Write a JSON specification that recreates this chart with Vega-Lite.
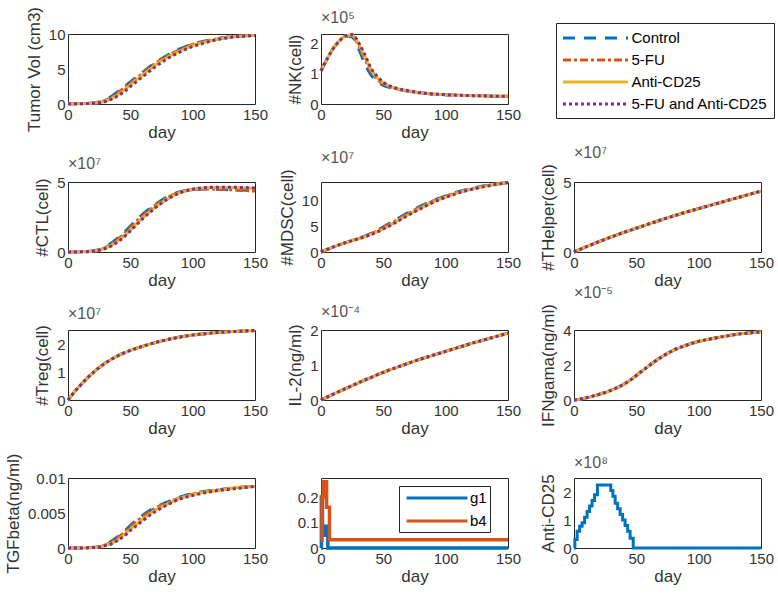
{
"$schema": "https://vega.github.io/schema/vega-lite/v6.json",
"autosize": {"type": "none"},
"padding": {"left": 68, "top": 34, "right": 710, "bottom": 565},
"background": "white",
"bounds": "flush",
"columns": 3,
"spacing": {"row": 78, "column": 66},
"resolve": {"scale": {"color": "independent", "strokeDash": "independent", "x": "independent", "y": "independent"}, "legend": {"color": "independent", "strokeDash": "independent"}},
"config": {
  "font": "Liberation Sans",
  "view": {"stroke": "#262626", "strokeWidth": 1},
  "axis": {"labelFont": "Liberation Sans", "labelFontSize": 15, "labelColor": "#333333", "titleFont": "Liberation Sans", "titleFontSize": 17, "titleFontWeight": "normal", "titleColor": "#333333", "domain": false, "ticks": false, "grid": false, "labelPadding": 3, "labelFlush": false, "labelOverlap": false},
  "axisX": {"titlePadding": 2},
  "axisY": {"titlePadding": 5},
  "title": {"anchor": "start", "frame": "group", "fontSize": 16, "fontWeight": "normal", "color": "#555555", "offset": 3, "font": "Liberation Sans"},
  "line": {"strokeWidth": 3, "interpolate": "monotone"}
},
"datasets": {
"m": [
{"p":"tv","d":0,"c":0.05,"f":0.05,"a":0.05,"b":0.05},
{"p":"tv","d":5,"c":0.05,"f":0.05,"a":0.05,"b":0.05},
{"p":"tv","d":10,"c":0.06,"f":0.06,"a":0.05,"b":0.05},
{"p":"tv","d":15,"c":0.08,"f":0.08,"a":0.07,"b":0.06},
{"p":"tv","d":20,"c":0.14,"f":0.13,"a":0.11,"b":0.1},
{"p":"tv","d":25,"c":0.28,"f":0.25,"a":0.2,"b":0.17},
{"p":"tv","d":30,"c":0.6,"f":0.52,"a":0.42,"b":0.35},
{"p":"tv","d":35,"c":1.1,"f":0.98,"a":0.8,"b":0.68},
{"p":"tv","d":40,"c":1.75,"f":1.6,"a":1.35,"b":1.15},
{"p":"tv","d":45,"c":2.45,"f":2.28,"a":1.98,"b":1.75},
{"p":"tv","d":50,"c":3.15,"f":3.0,"a":2.75,"b":2.5},
{"p":"tv","d":55,"c":3.85,"f":3.7,"a":3.45,"b":3.2},
{"p":"tv","d":60,"c":4.55,"f":4.4,"a":4.15,"b":3.9},
{"p":"tv","d":70,"c":5.9,"f":5.8,"a":5.55,"b":5.3},
{"p":"tv","d":80,"c":7.0,"f":6.9,"a":6.7,"b":6.5},
{"p":"tv","d":90,"c":7.9,"f":7.8,"a":7.6,"b":7.45},
{"p":"tv","d":100,"c":8.55,"f":8.5,"a":8.35,"b":8.2},
{"p":"tv","d":110,"c":9.0,"f":8.95,"a":8.85,"b":8.75},
{"p":"tv","d":120,"c":9.35,"f":9.3,"a":9.25,"b":9.2},
{"p":"tv","d":130,"c":9.6,"f":9.58,"a":9.55,"b":9.5},
{"p":"tv","d":140,"c":9.72,"f":9.72,"a":9.7,"b":9.68},
{"p":"tv","d":150,"c":9.8,"f":9.8,"a":9.8,"b":9.78},
{"p":"nk","d":0,"c":1.1,"f":1.1,"a":1.1,"b":1.1},
{"p":"nk","d":5,"c":1.5,"f":1.5,"a":1.5,"b":1.5},
{"p":"nk","d":10,"c":1.85,"f":1.85,"a":1.85,"b":1.85},
{"p":"nk","d":15,"c":2.1,"f":2.1,"a":2.1,"b":2.1},
{"p":"nk","d":20,"c":2.25,"f":2.26,"a":2.26,"b":2.26},
{"p":"nk","d":25,"c":2.22,"f":2.26,"a":2.28,"b":2.3},
{"p":"nk","d":30,"c":1.85,"f":1.95,"a":2.0,"b":2.05},
{"p":"nk","d":35,"c":1.35,"f":1.5,"a":1.58,"b":1.65},
{"p":"nk","d":40,"c":0.97,"f":1.08,"a":1.15,"b":1.2},
{"p":"nk","d":45,"c":0.75,"f":0.82,"a":0.88,"b":0.92},
{"p":"nk","d":50,"c":0.62,"f":0.67,"a":0.7,"b":0.72},
{"p":"nk","d":55,"c":0.55,"f":0.58,"a":0.59,"b":0.6},
{"p":"nk","d":60,"c":0.5,"f":0.51,"a":0.52,"b":0.53},
{"p":"nk","d":70,"c":0.42,"f":0.43,"a":0.43,"b":0.44},
{"p":"nk","d":80,"c":0.37,"f":0.37,"a":0.37,"b":0.37},
{"p":"nk","d":90,"c":0.33,"f":0.33,"a":0.33,"b":0.33},
{"p":"nk","d":100,"c":0.31,"f":0.31,"a":0.31,"b":0.31},
{"p":"nk","d":110,"c":0.29,"f":0.29,"a":0.29,"b":0.29},
{"p":"nk","d":120,"c":0.28,"f":0.28,"a":0.28,"b":0.28},
{"p":"nk","d":130,"c":0.27,"f":0.27,"a":0.27,"b":0.27},
{"p":"nk","d":140,"c":0.26,"f":0.26,"a":0.26,"b":0.26},
{"p":"nk","d":150,"c":0.26,"f":0.26,"a":0.26,"b":0.26},
{"p":"ctl","d":0,"c":0,"f":0,"a":0,"b":0},
{"p":"ctl","d":5,"c":0,"f":0,"a":0,"b":0},
{"p":"ctl","d":10,"c":0.01,"f":0.01,"a":0.01,"b":0.01},
{"p":"ctl","d":15,"c":0.03,"f":0.03,"a":0.02,"b":0.02},
{"p":"ctl","d":20,"c":0.08,"f":0.07,"a":0.06,"b":0.05},
{"p":"ctl","d":25,"c":0.17,"f":0.15,"a":0.13,"b":0.12},
{"p":"ctl","d":30,"c":0.35,"f":0.32,"a":0.28,"b":0.25},
{"p":"ctl","d":35,"c":0.65,"f":0.58,"a":0.5,"b":0.45},
{"p":"ctl","d":40,"c":1.0,"f":0.92,"a":0.8,"b":0.73},
{"p":"ctl","d":45,"c":1.4,"f":1.3,"a":1.15,"b":1.08},
{"p":"ctl","d":50,"c":1.85,"f":1.75,"a":1.58,"b":1.5},
{"p":"ctl","d":55,"c":2.3,"f":2.2,"a":2.02,"b":1.95},
{"p":"ctl","d":60,"c":2.7,"f":2.6,"a":2.45,"b":2.38},
{"p":"ctl","d":70,"c":3.4,"f":3.35,"a":3.2,"b":3.15},
{"p":"ctl","d":80,"c":3.95,"f":3.9,"a":3.8,"b":3.78},
{"p":"ctl","d":90,"c":4.3,"f":4.28,"a":4.25,"b":4.23},
{"p":"ctl","d":100,"c":4.45,"f":4.45,"a":4.48,"b":4.48},
{"p":"ctl","d":110,"c":4.5,"f":4.5,"a":4.58,"b":4.6},
{"p":"ctl","d":120,"c":4.48,"f":4.48,"a":4.6,"b":4.63},
{"p":"ctl","d":130,"c":4.45,"f":4.45,"a":4.6,"b":4.63},
{"p":"ctl","d":140,"c":4.42,"f":4.4,"a":4.58,"b":4.6},
{"p":"ctl","d":150,"c":4.38,"f":4.35,"a":4.55,"b":4.57},
{"p":"mdsc","d":0,"c":0,"f":0,"a":0,"b":0},
{"p":"mdsc","d":5,"c":0.5,"f":0.5,"a":0.5,"b":0.5},
{"p":"mdsc","d":10,"c":1.0,"f":1.0,"a":1.0,"b":1.0},
{"p":"mdsc","d":15,"c":1.45,"f":1.45,"a":1.45,"b":1.45},
{"p":"mdsc","d":20,"c":1.85,"f":1.85,"a":1.85,"b":1.85},
{"p":"mdsc","d":25,"c":2.25,"f":2.25,"a":2.25,"b":2.25},
{"p":"mdsc","d":30,"c":2.65,"f":2.63,"a":2.6,"b":2.58},
{"p":"mdsc","d":35,"c":3.1,"f":3.07,"a":3.0,"b":2.97},
{"p":"mdsc","d":40,"c":3.65,"f":3.6,"a":3.45,"b":3.4},
{"p":"mdsc","d":45,"c":4.25,"f":4.15,"a":3.95,"b":3.9},
{"p":"mdsc","d":50,"c":4.9,"f":4.8,"a":4.55,"b":4.5},
{"p":"mdsc","d":55,"c":5.6,"f":5.45,"a":5.2,"b":5.1},
{"p":"mdsc","d":60,"c":6.3,"f":6.15,"a":5.9,"b":5.8},
{"p":"mdsc","d":70,"c":7.7,"f":7.55,"a":7.3,"b":7.2},
{"p":"mdsc","d":80,"c":9.0,"f":8.85,"a":8.6,"b":8.5},
{"p":"mdsc","d":90,"c":10.1,"f":10.0,"a":9.8,"b":9.7},
{"p":"mdsc","d":100,"c":11.0,"f":10.9,"a":10.75,"b":10.7},
{"p":"mdsc","d":110,"c":11.8,"f":11.7,"a":11.6,"b":11.55},
{"p":"mdsc","d":120,"c":12.4,"f":12.35,"a":12.25,"b":12.2},
{"p":"mdsc","d":130,"c":12.9,"f":12.85,"a":12.8,"b":12.75},
{"p":"mdsc","d":140,"c":13.3,"f":13.28,"a":13.25,"b":13.2},
{"p":"mdsc","d":150,"c":13.6,"f":13.6,"a":13.6,"b":13.6},
{"p":"th","d":0,"c":0,"f":0,"a":0,"b":0},
{"p":"th","d":5,"c":0.19,"f":0.19,"a":0.19,"b":0.19},
{"p":"th","d":10,"c":0.38,"f":0.38,"a":0.38,"b":0.38},
{"p":"th","d":15,"c":0.56,"f":0.56,"a":0.56,"b":0.56},
{"p":"th","d":20,"c":0.74,"f":0.74,"a":0.74,"b":0.74},
{"p":"th","d":25,"c":0.91,"f":0.91,"a":0.91,"b":0.91},
{"p":"th","d":30,"c":1.08,"f":1.08,"a":1.08,"b":1.08},
{"p":"th","d":35,"c":1.24,"f":1.24,"a":1.24,"b":1.24},
{"p":"th","d":40,"c":1.4,"f":1.4,"a":1.4,"b":1.4},
{"p":"th","d":45,"c":1.55,"f":1.55,"a":1.55,"b":1.55},
{"p":"th","d":50,"c":1.7,"f":1.7,"a":1.7,"b":1.7},
{"p":"th","d":55,"c":1.85,"f":1.85,"a":1.85,"b":1.85},
{"p":"th","d":60,"c":2.0,"f":2.0,"a":2.0,"b":2.0},
{"p":"th","d":70,"c":2.3,"f":2.3,"a":2.3,"b":2.3},
{"p":"th","d":80,"c":2.58,"f":2.58,"a":2.58,"b":2.58},
{"p":"th","d":90,"c":2.85,"f":2.85,"a":2.85,"b":2.85},
{"p":"th","d":100,"c":3.1,"f":3.1,"a":3.1,"b":3.1},
{"p":"th","d":110,"c":3.35,"f":3.35,"a":3.35,"b":3.35},
{"p":"th","d":120,"c":3.6,"f":3.6,"a":3.6,"b":3.6},
{"p":"th","d":130,"c":3.85,"f":3.85,"a":3.85,"b":3.85},
{"p":"th","d":140,"c":4.1,"f":4.1,"a":4.1,"b":4.1},
{"p":"th","d":150,"c":4.35,"f":4.35,"a":4.35,"b":4.35},
{"p":"treg","d":0,"c":0,"f":0,"a":0,"b":0},
{"p":"treg","d":5,"c":0.28,"f":0.28,"a":0.28,"b":0.28},
{"p":"treg","d":10,"c":0.53,"f":0.53,"a":0.53,"b":0.53},
{"p":"treg","d":15,"c":0.76,"f":0.76,"a":0.76,"b":0.76},
{"p":"treg","d":20,"c":0.97,"f":0.97,"a":0.97,"b":0.97},
{"p":"treg","d":25,"c":1.16,"f":1.16,"a":1.16,"b":1.16},
{"p":"treg","d":30,"c":1.32,"f":1.32,"a":1.32,"b":1.32},
{"p":"treg","d":35,"c":1.46,"f":1.46,"a":1.46,"b":1.46},
{"p":"treg","d":40,"c":1.58,"f":1.58,"a":1.58,"b":1.58},
{"p":"treg","d":45,"c":1.68,"f":1.68,"a":1.68,"b":1.68},
{"p":"treg","d":50,"c":1.77,"f":1.77,"a":1.77,"b":1.77},
{"p":"treg","d":55,"c":1.85,"f":1.85,"a":1.85,"b":1.85},
{"p":"treg","d":60,"c":1.92,"f":1.92,"a":1.92,"b":1.92},
{"p":"treg","d":70,"c":2.05,"f":2.05,"a":2.05,"b":2.05},
{"p":"treg","d":80,"c":2.16,"f":2.16,"a":2.16,"b":2.16},
{"p":"treg","d":90,"c":2.25,"f":2.25,"a":2.25,"b":2.25},
{"p":"treg","d":100,"c":2.32,"f":2.32,"a":2.32,"b":2.32},
{"p":"treg","d":110,"c":2.37,"f":2.37,"a":2.37,"b":2.37},
{"p":"treg","d":120,"c":2.41,"f":2.41,"a":2.41,"b":2.41},
{"p":"treg","d":130,"c":2.44,"f":2.44,"a":2.44,"b":2.44},
{"p":"treg","d":140,"c":2.46,"f":2.46,"a":2.46,"b":2.46},
{"p":"treg","d":150,"c":2.48,"f":2.48,"a":2.48,"b":2.48},
{"p":"il2","d":0,"c":0,"f":0,"a":0,"b":0},
{"p":"il2","d":5,"c":0.085,"f":0.085,"a":0.085,"b":0.085},
{"p":"il2","d":10,"c":0.17,"f":0.17,"a":0.17,"b":0.17},
{"p":"il2","d":15,"c":0.25,"f":0.25,"a":0.25,"b":0.25},
{"p":"il2","d":20,"c":0.33,"f":0.33,"a":0.33,"b":0.33},
{"p":"il2","d":25,"c":0.41,"f":0.41,"a":0.41,"b":0.41},
{"p":"il2","d":30,"c":0.49,"f":0.49,"a":0.49,"b":0.49},
{"p":"il2","d":35,"c":0.57,"f":0.57,"a":0.57,"b":0.57},
{"p":"il2","d":40,"c":0.64,"f":0.64,"a":0.64,"b":0.64},
{"p":"il2","d":45,"c":0.72,"f":0.72,"a":0.72,"b":0.72},
{"p":"il2","d":50,"c":0.79,"f":0.79,"a":0.79,"b":0.79},
{"p":"il2","d":55,"c":0.86,"f":0.86,"a":0.86,"b":0.86},
{"p":"il2","d":60,"c":0.92,"f":0.92,"a":0.92,"b":0.92},
{"p":"il2","d":70,"c":1.05,"f":1.05,"a":1.05,"b":1.05},
{"p":"il2","d":80,"c":1.17,"f":1.17,"a":1.17,"b":1.17},
{"p":"il2","d":90,"c":1.28,"f":1.28,"a":1.28,"b":1.28},
{"p":"il2","d":100,"c":1.39,"f":1.39,"a":1.39,"b":1.39},
{"p":"il2","d":110,"c":1.5,"f":1.5,"a":1.5,"b":1.5},
{"p":"il2","d":120,"c":1.61,"f":1.61,"a":1.61,"b":1.61},
{"p":"il2","d":130,"c":1.71,"f":1.71,"a":1.71,"b":1.71},
{"p":"il2","d":140,"c":1.81,"f":1.81,"a":1.81,"b":1.81},
{"p":"il2","d":150,"c":1.91,"f":1.91,"a":1.91,"b":1.91},
{"p":"ifn","d":0,"c":0,"f":0,"a":0,"b":0},
{"p":"ifn","d":5,"c":0.05,"f":0.05,"a":0.05,"b":0.05},
{"p":"ifn","d":10,"c":0.13,"f":0.13,"a":0.13,"b":0.13},
{"p":"ifn","d":15,"c":0.22,"f":0.22,"a":0.22,"b":0.22},
{"p":"ifn","d":20,"c":0.32,"f":0.32,"a":0.32,"b":0.32},
{"p":"ifn","d":25,"c":0.43,"f":0.43,"a":0.43,"b":0.43},
{"p":"ifn","d":30,"c":0.56,"f":0.56,"a":0.56,"b":0.56},
{"p":"ifn","d":35,"c":0.72,"f":0.72,"a":0.72,"b":0.72},
{"p":"ifn","d":40,"c":0.9,"f":0.9,"a":0.9,"b":0.9},
{"p":"ifn","d":45,"c":1.13,"f":1.13,"a":1.13,"b":1.13},
{"p":"ifn","d":50,"c":1.4,"f":1.4,"a":1.4,"b":1.4},
{"p":"ifn","d":55,"c":1.68,"f":1.68,"a":1.68,"b":1.68},
{"p":"ifn","d":60,"c":1.95,"f":1.95,"a":1.95,"b":1.95},
{"p":"ifn","d":70,"c":2.45,"f":2.45,"a":2.45,"b":2.45},
{"p":"ifn","d":80,"c":2.85,"f":2.85,"a":2.85,"b":2.85},
{"p":"ifn","d":90,"c":3.13,"f":3.13,"a":3.13,"b":3.13},
{"p":"ifn","d":100,"c":3.35,"f":3.35,"a":3.35,"b":3.35},
{"p":"ifn","d":110,"c":3.5,"f":3.5,"a":3.5,"b":3.5},
{"p":"ifn","d":120,"c":3.63,"f":3.63,"a":3.63,"b":3.63},
{"p":"ifn","d":130,"c":3.75,"f":3.75,"a":3.75,"b":3.75},
{"p":"ifn","d":140,"c":3.83,"f":3.83,"a":3.83,"b":3.83},
{"p":"ifn","d":150,"c":3.9,"f":3.9,"a":3.9,"b":3.9},
{"p":"tgf","d":0,"c":0,"f":0,"a":0,"b":0},
{"p":"tgf","d":5,"c":0,"f":0,"a":0,"b":0},
{"p":"tgf","d":10,"c":0,"f":0,"a":0,"b":0},
{"p":"tgf","d":15,"c":0.00003,"f":0.00003,"a":0.00002,"b":0.00002},
{"p":"tgf","d":20,"c":0.0001,"f":0.00009,"a":0.00007,"b":0.00006},
{"p":"tgf","d":25,"c":0.0002,"f":0.00018,"a":0.00015,"b":0.00013},
{"p":"tgf","d":30,"c":0.0005,"f":0.00045,"a":0.0004,"b":0.00035},
{"p":"tgf","d":35,"c":0.001,"f":0.0009,"a":0.0007,"b":0.0006},
{"p":"tgf","d":40,"c":0.0016,"f":0.0015,"a":0.0012,"b":0.0011},
{"p":"tgf","d":45,"c":0.0024,"f":0.0022,"a":0.0019,"b":0.0017},
{"p":"tgf","d":50,"c":0.0032,"f":0.003,"a":0.0027,"b":0.0025},
{"p":"tgf","d":55,"c":0.004,"f":0.0038,"a":0.0034,"b":0.0032},
{"p":"tgf","d":60,"c":0.0047,"f":0.0045,"a":0.0041,"b":0.0039},
{"p":"tgf","d":70,"c":0.0058,"f":0.0057,"a":0.0054,"b":0.0052},
{"p":"tgf","d":80,"c":0.0066,"f":0.0065,"a":0.0063,"b":0.0062},
{"p":"tgf","d":90,"c":0.0073,"f":0.0072,"a":0.0071,"b":0.007},
{"p":"tgf","d":100,"c":0.0078,"f":0.0077,"a":0.0076,"b":0.0075},
{"p":"tgf","d":110,"c":0.0081,"f":0.008,"a":0.008,"b":0.0079},
{"p":"tgf","d":120,"c":0.0083,"f":0.0083,"a":0.0082,"b":0.0082},
{"p":"tgf","d":130,"c":0.0085,"f":0.0085,"a":0.0085,"b":0.0084},
{"p":"tgf","d":140,"c":0.0087,"f":0.0087,"a":0.0087,"b":0.0086},
{"p":"tgf","d":150,"c":0.0088,"f":0.0088,"a":0.0088,"b":0.0088}
],
"gb": [
{"s":"g1","d":0,"v":0},
{"s":"g1","d":0.3,"v":0.2},
{"s":"g1","d":1.2,"v":0.05},
{"s":"g1","d":3,"v":0.085},
{"s":"g1","d":5.5,"v":0},
{"s":"g1","d":150,"v":0},
{"s":"b4","d":0,"v":0.03},
{"s":"b4","d":0.8,"v":0.2},
{"s":"b4","d":1.8,"v":0.26},
{"s":"b4","d":4.5,"v":0.16},
{"s":"b4","d":6.8,"v":0.032},
{"s":"b4","d":150,"v":0.032}
],
"cd": [
{"d":0,"v":0},
{"d":0.7,"v":0.3},
{"d":2.5,"v":0.6},
{"d":4.5,"v":0.78},
{"d":6.5,"v":0.9},
{"d":8.5,"v":1.1},
{"d":10.5,"v":1.3},
{"d":12.5,"v":1.5},
{"d":14.5,"v":1.7},
{"d":16.5,"v":1.9},
{"d":18.8,"v":2.25},
{"d":29.5,"v":2.05},
{"d":31.2,"v":1.85},
{"d":33,"v":1.6},
{"d":35,"v":1.4},
{"d":37,"v":1.2},
{"d":39,"v":1.0},
{"d":41,"v":0.8},
{"d":43,"v":0.6},
{"d":45,"v":0.35},
{"d":47.5,"v":0},
{"d":150,"v":0}
]
},
"concat": [
{"width":187,"height":70,"data":{"name":"m"},
 "transform":[{"filter":"datum.p==='tv'"},{"fold":["c","f","a","b"],"as":["s","v"]}],
 "mark":{"type":"line"},
 "encoding":{
  "x":{"field":"d","type":"quantitative","scale":{"domain":[0,150],"nice":false},"axis":{"values":[0,50,100,150],"title":"day"}},
  "y":{"field":"v","type":"quantitative","scale":{"domain":[0,10],"nice":false},"axis":{"values":[0,5,10],"format":"~r","title":"Tumor Vol (cm3)"}},
  "color":{"field":"s","type":"nominal","scale":{"domain":["c","f","a","b"],"range":["#0072BD","#D95319","#EDB120","#7E2F8E"]},
   "legend":{"orient":"none","legendX":488,"legendY":-11,"direction":"vertical","title":null,"symbolType":"M-4.6,0H4.6","symbolSize":200,"symbolStrokeWidth":3,"symbolOffset":24.5,"labelOffset":27,"padding":6,"rowPadding":5,"strokeColor":"#262626","fillColor":"white","labelFontSize":15,"labelFont":"Liberation Sans","labelColor":"#000000","labelLimit":300,"labelExpr":"datum.label==='c'?'Control':datum.label==='f'?'5-FU':datum.label==='a'?'Anti-CD25':'5-FU and Anti-CD25'"}},
  "strokeDash":{"field":"s","type":"nominal","scale":{"domain":["c","f","a","b"],"range":[[12,9],[8,3,3,3],[1,0],[3,3]]},
   "legend":{"orient":"none","legendX":488,"legendY":-11,"direction":"vertical","title":null,"symbolType":"M-4.6,0H4.6","symbolSize":200,"symbolStrokeWidth":3,"symbolOffset":24.5,"labelOffset":27,"padding":6,"rowPadding":5,"strokeColor":"#262626","fillColor":"white","labelFontSize":15,"labelFont":"Liberation Sans","labelColor":"#000000","labelLimit":300,"labelExpr":"datum.label==='c'?'Control':datum.label==='f'?'5-FU':datum.label==='a'?'Anti-CD25':'5-FU and Anti-CD25'"}}
 }},
{"width":187,"height":70,"data":{"name":"m"},"title":{"text":"×10⁵","fontSize":16},
 "transform":[{"filter":"datum.p==='nk'"},{"fold":["c","f","a","b"],"as":["s","v"]}],
 "mark":{"type":"line"},
 "encoding":{
  "x":{"field":"d","type":"quantitative","scale":{"domain":[0,150],"nice":false},"axis":{"values":[0,50,100,150],"title":"day"}},
  "y":{"field":"v","type":"quantitative","scale":{"domain":[0,2.32],"nice":false},"axis":{"values":[0,1,2],"format":"~r","title":"#NK(cell)"}},
  "color":{"field":"s","type":"nominal","scale":{"domain":["c","f","a","b"],"range":["#0072BD","#D95319","#EDB120","#7E2F8E"]},"legend":null},
  "strokeDash":{"field":"s","type":"nominal","scale":{"domain":["c","f","a","b"],"range":[[12,9],[8,3,3,3],[1,0],[3,3]]},"legend":null}
 }},
{"width":187,"height":70,"data":{"values":[{}]},"mark":{"type":"point","opacity":0},"view":{"stroke":null}},
{"width":187,"height":70,"data":{"name":"m"},"title":{"text":"×10⁷","fontSize":16},
 "transform":[{"filter":"datum.p==='ctl'"},{"fold":["c","f","a","b"],"as":["s","v"]}],
 "mark":{"type":"line"},
 "encoding":{
  "x":{"field":"d","type":"quantitative","scale":{"domain":[0,150],"nice":false},"axis":{"values":[0,50,100,150],"title":"day"}},
  "y":{"field":"v","type":"quantitative","scale":{"domain":[0,5],"nice":false},"axis":{"values":[0,5],"format":"~r","title":"#CTL(cell)"}},
  "color":{"field":"s","type":"nominal","scale":{"domain":["c","f","a","b"],"range":["#0072BD","#D95319","#EDB120","#7E2F8E"]},"legend":null},
  "strokeDash":{"field":"s","type":"nominal","scale":{"domain":["c","f","a","b"],"range":[[12,9],[8,3,3,3],[1,0],[3,3]]},"legend":null}
 }},
{"width":187,"height":70,"data":{"name":"m"},"title":{"text":"×10⁷","fontSize":16},
 "transform":[{"filter":"datum.p==='mdsc'"},{"fold":["c","f","a","b"],"as":["s","v"]}],
 "mark":{"type":"line"},
 "encoding":{
  "x":{"field":"d","type":"quantitative","scale":{"domain":[0,150],"nice":false},"axis":{"values":[0,50,100,150],"title":"day"}},
  "y":{"field":"v","type":"quantitative","scale":{"domain":[0,13.7],"nice":false},"axis":{"values":[0,5,10],"format":"~r","title":"#MDSC(cell)"}},
  "color":{"field":"s","type":"nominal","scale":{"domain":["c","f","a","b"],"range":["#0072BD","#D95319","#EDB120","#7E2F8E"]},"legend":null},
  "strokeDash":{"field":"s","type":"nominal","scale":{"domain":["c","f","a","b"],"range":[[12,9],[8,3,3,3],[1,0],[3,3]]},"legend":null}
 }},
{"width":187,"height":70,"data":{"name":"m"},"title":{"text":"×10⁷","fontSize":16},
 "transform":[{"filter":"datum.p==='th'"},{"fold":["c","f","a","b"],"as":["s","v"]}],
 "mark":{"type":"line"},
 "encoding":{
  "x":{"field":"d","type":"quantitative","scale":{"domain":[0,150],"nice":false},"axis":{"values":[0,50,100,150],"title":"day"}},
  "y":{"field":"v","type":"quantitative","scale":{"domain":[0,5],"nice":false},"axis":{"values":[0,5],"format":"~r","title":"#THelper(cell)"}},
  "color":{"field":"s","type":"nominal","scale":{"domain":["c","f","a","b"],"range":["#0072BD","#D95319","#EDB120","#7E2F8E"]},"legend":null},
  "strokeDash":{"field":"s","type":"nominal","scale":{"domain":["c","f","a","b"],"range":[[12,9],[8,3,3,3],[1,0],[3,3]]},"legend":null}
 }},
{"width":187,"height":70,"data":{"name":"m"},"title":{"text":"×10⁷","fontSize":16},
 "transform":[{"filter":"datum.p==='treg'"},{"fold":["c","f","a","b"],"as":["s","v"]}],
 "mark":{"type":"line"},
 "encoding":{
  "x":{"field":"d","type":"quantitative","scale":{"domain":[0,150],"nice":false},"axis":{"values":[0,50,100,150],"title":"day"}},
  "y":{"field":"v","type":"quantitative","scale":{"domain":[0,2.5],"nice":false},"axis":{"values":[0,1,2],"format":"~r","title":"#Treg(cell)"}},
  "color":{"field":"s","type":"nominal","scale":{"domain":["c","f","a","b"],"range":["#0072BD","#D95319","#EDB120","#7E2F8E"]},"legend":null},
  "strokeDash":{"field":"s","type":"nominal","scale":{"domain":["c","f","a","b"],"range":[[12,9],[8,3,3,3],[1,0],[3,3]]},"legend":null}
 }},
{"width":187,"height":70,"data":{"name":"m"},"title":{"text":"×10⁻⁴","fontSize":16},
 "transform":[{"filter":"datum.p==='il2'"},{"fold":["c","f","a","b"],"as":["s","v"]}],
 "mark":{"type":"line"},
 "encoding":{
  "x":{"field":"d","type":"quantitative","scale":{"domain":[0,150],"nice":false},"axis":{"values":[0,50,100,150],"title":"day"}},
  "y":{"field":"v","type":"quantitative","scale":{"domain":[0,2],"nice":false},"axis":{"values":[0,1,2],"format":"~r","title":"IL-2(ng/ml)"}},
  "color":{"field":"s","type":"nominal","scale":{"domain":["c","f","a","b"],"range":["#0072BD","#D95319","#EDB120","#7E2F8E"]},"legend":null},
  "strokeDash":{"field":"s","type":"nominal","scale":{"domain":["c","f","a","b"],"range":[[12,9],[8,3,3,3],[1,0],[3,3]]},"legend":null}
 }},
{"width":187,"height":70,"data":{"name":"m"},"title":{"text":"×10⁻⁵","fontSize":16},
 "transform":[{"filter":"datum.p==='ifn'"},{"fold":["c","f","a","b"],"as":["s","v"]}],
 "mark":{"type":"line"},
 "encoding":{
  "x":{"field":"d","type":"quantitative","scale":{"domain":[0,150],"nice":false},"axis":{"values":[0,50,100,150],"title":"day"}},
  "y":{"field":"v","type":"quantitative","scale":{"domain":[0,4],"nice":false},"axis":{"values":[0,2,4],"format":"~r","title":"IFNgama(ng/ml)"}},
  "color":{"field":"s","type":"nominal","scale":{"domain":["c","f","a","b"],"range":["#0072BD","#D95319","#EDB120","#7E2F8E"]},"legend":null},
  "strokeDash":{"field":"s","type":"nominal","scale":{"domain":["c","f","a","b"],"range":[[12,9],[8,3,3,3],[1,0],[3,3]]},"legend":null}
 }},
{"width":187,"height":70,"data":{"name":"m"},
 "transform":[{"filter":"datum.p==='tgf'"},{"fold":["c","f","a","b"],"as":["s","v"]}],
 "mark":{"type":"line"},
 "encoding":{
  "x":{"field":"d","type":"quantitative","scale":{"domain":[0,150],"nice":false},"axis":{"values":[0,50,100,150],"title":"day"}},
  "y":{"field":"v","type":"quantitative","scale":{"domain":[0,0.01],"nice":false},"axis":{"values":[0,0.005,0.01],"format":"~r","title":"TGFbeta(ng/ml)"}},
  "color":{"field":"s","type":"nominal","scale":{"domain":["c","f","a","b"],"range":["#0072BD","#D95319","#EDB120","#7E2F8E"]},"legend":null},
  "strokeDash":{"field":"s","type":"nominal","scale":{"domain":["c","f","a","b"],"range":[[12,9],[8,3,3,3],[1,0],[3,3]]},"legend":null}
 }},
{"width":187,"height":70,"data":{"name":"gb"},
 "mark":{"type":"line","interpolate":"step-after","strokeWidth":3.5},
 "encoding":{
  "x":{"field":"d","type":"quantitative","scale":{"domain":[0,150],"nice":false},"axis":{"values":[0,50,100,150],"title":"day"}},
  "y":{"field":"v","type":"quantitative","scale":{"domain":[0,0.275],"nice":false},"axis":{"values":[0,0.1,0.2],"format":"~r","title":null}},
  "color":{"field":"s","type":"nominal","scale":{"domain":["g1","b4"],"range":["#0072BD","#D95319"]},
   "legend":{"orient":"none","legendX":78,"legendY":8,"direction":"vertical","title":null,"symbolType":"M-4.3,0H4.3","symbolSize":200,"symbolStrokeWidth":4,"symbolOffset":26,"labelOffset":24,"padding":3,"rowPadding":6,"strokeColor":"#262626","fillColor":"white","labelFontSize":15,"labelFont":"Liberation Sans","labelColor":"#000000","labelExpr":"datum.label + '\u00a0\u00a0\u00a0'"}}
 }},
{"width":187,"height":70,"data":{"name":"cd"},"title":{"text":"×10⁸","fontSize":16},
 "mark":{"type":"line","interpolate":"step-after","strokeWidth":3,"color":"#0072BD"},
 "encoding":{
  "x":{"field":"d","type":"quantitative","scale":{"domain":[0,150],"nice":false},"axis":{"values":[0,50,100,150],"title":"day"}},
  "y":{"field":"v","type":"quantitative","scale":{"domain":[0,2.5],"nice":false},"axis":{"values":[0,1,2],"format":"~r","title":"Anti-CD25"}}
 }}
]
}
